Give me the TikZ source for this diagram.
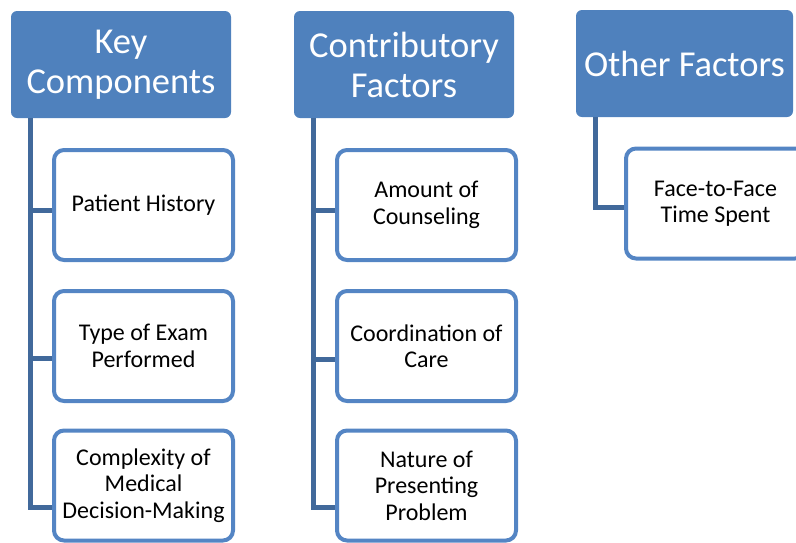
\documentclass[tikz,border=0pt]{standalone}
\usepackage{fontspec}
\setmainfont{Carlito}
\usepackage{xcolor}
\definecolor{hdrblue}{HTML}{4F81BD}
\definecolor{linkblue}{HTML}{41699B}
\definecolor{boxblue}{HTML}{5485C4}
\begin{document}
\begin{tikzpicture}[x=1pt, y=-1pt,
		header/.style={fill=hdrblue, rounded corners=6pt, minimum width=220pt, minimum height=107pt, inner sep=0pt, align=center, text=white, font=\fontsize{36.5}{40}\selectfont},
		item/.style={draw=boxblue, line width=4pt, fill=white, rounded corners=10pt, minimum width=179pt, minimum height=110pt, inner sep=0pt, align=center, font=\fontsize{24}{26.5}\selectfont},
		link/.style={draw=linkblue, line width=5pt}]
				% Frame:
				\useasboundingbox (0, 0) rectangle (796, 542);
				\clip (0, 0) rectangle (796, 542);
				% Headers:
				\node[header](hdrA) at (121, 64.5){Key\\Components};
				\node[header](hdrB) at (404, 64.5){Contributory\\Factors};
				\node[header, minimum width=217pt](hdrC) at (684.5, 63.5){Other Factors};
				% Items:
				\node[item](boxA1) at (143.5, 205){Patient History};
				\node[item](boxA2) at (143.5, 346){Type of Exam\\Performed};
				\node[item](boxA3) at (143.5, 485.5){Complexity of\\Medical\\Decision-Making};
				\node[item](boxB1) at (426.5, 205){Amount of\\Counseling};
				\node[item](boxB2) at (426.5, 346){Coordination of\\Care};
				\node[item](boxB3) at (426.5, 485.5){Nature of\\Presenting\\Problem};
				\node[item](boxC1) at (715.5, 203.5){Face-to-Face\\Time Spent};
				% Links:
				\draw[link] ([xshift=19.5pt]hdrA.south west) |- ([yshift=-5pt]boxA1.west);
				\draw[link] ([xshift=19.5pt]hdrA.south west) |- ([yshift=-12pt]boxA2.west);
				\draw[link] ([xshift=19.5pt]hdrA.south west) |- ([yshift=-21.5pt]boxA3.west);
				\draw[link] ([xshift=19.5pt]hdrB.south west) |- ([yshift=-5pt]boxB1.west);
				\draw[link] ([xshift=19.5pt]hdrB.south west) |- ([yshift=-13pt]boxB2.west);
				\draw[link] ([xshift=19.5pt]hdrB.south west) |- ([yshift=-21.5pt]boxB3.west);
				\draw[link] ([xshift=19.5pt]hdrC.south west) |- ([yshift=-4pt]boxC1.west);
			\end{tikzpicture}
\end{document}
